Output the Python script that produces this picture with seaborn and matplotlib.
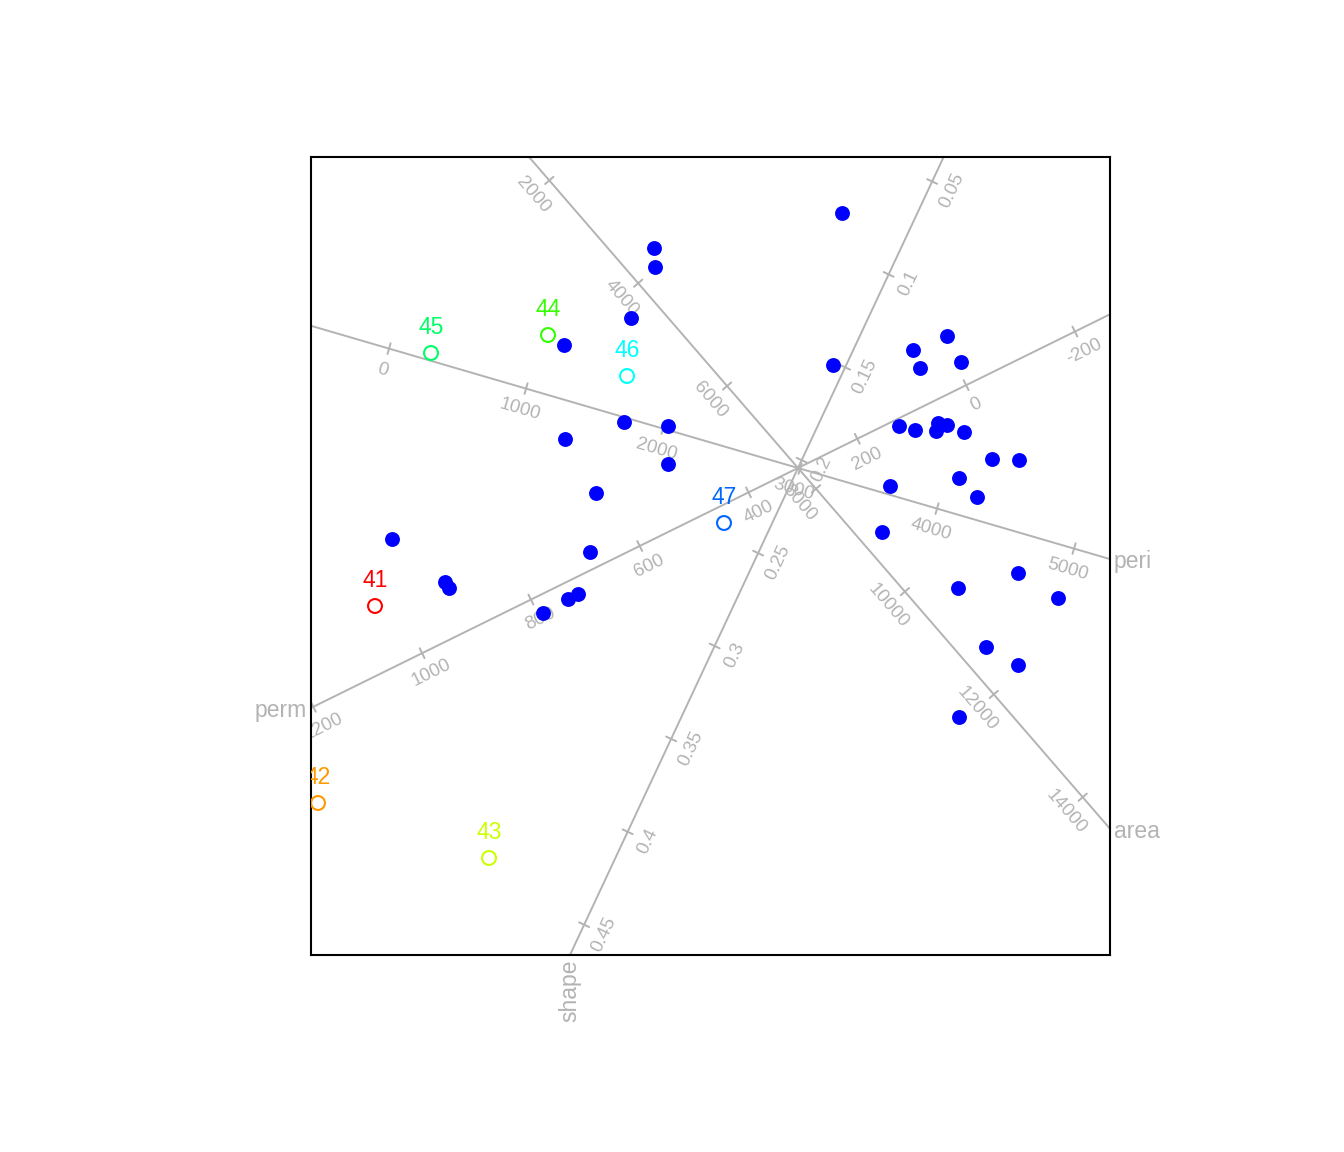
import numpy as np
import pandas as pd
import matplotlib
matplotlib.use("Agg")
import matplotlib.pyplot as plt
import seaborn as sns

# ---- biplot scores of the active samples (blue) ----
pt_x = [-1.44, -1.43, -1.67, -2.34, -1.74, -1.30, -2.33, -1.30, -2.02,
        0.44, 0.35, 1.49, 1.15, 1.22, 1.63, 1.01, 1.17, 1.40, 1.49, 1.38,
        1.66, 1.94, 2.21, 1.61, 0.92, 1.79, 0.84, 2.20, 1.60, 2.60, 1.88,
        2.20, 1.61, -4.06, -3.53, -3.49, -2.08, -2.20, -2.30, -2.55]
pt_y = [2.20, 2.01, 1.50, 1.23, 0.46, 0.42, 0.29, 0.04, -0.25,
        2.55, 1.03, 1.32, 1.18, 1.00, 1.06, 0.42, 0.38, 0.45, 0.43, 0.37,
        0.36, 0.09, 0.08, -0.10, -0.18, -0.29, -0.64, -1.05, -1.20, -1.30, -1.79,
        -1.97, -2.49, -0.71, -1.14, -1.20, -0.84, -1.26, -1.31, -1.45]

# ---- supplementary (labelled) samples ----
sup_id = ["41", "42", "43", "44", "45", "46", "47"]
sup_x = [-4.23, -4.80, -3.09, -2.50, -3.67, -1.71, -0.74]
sup_y = [-1.38, -3.35, -3.90, 1.33, 1.15, 0.92, -0.55]
sup_col = ["#FF0000", "#FF9900", "#CCFF00", "#33FF00", "#00FF66", "#00FFFF", "#0066FF"]

# ---- calibrated variable axes ----
var_names = ["peri", "area", "perm", "shape"]
var_center = [2985.0, 7595.0, 309.0, 0.2042]
var_dir_x = [1.37e-3, 0.4445e-3, -0.544e-2, -8.7]     # displacement per unit of variable
var_dir_y = [-0.40e-3, -0.514e-3, -0.268e-2, -18.58]
tick_vals = [
    [0, 1000, 2000, 3000, 4000, 5000],
    [2000, 4000, 6000, 8000, 10000, 12000, 14000],
    [-200, 0, 200, 400, 600, 800, 1000, 1200],
    [0.05, 0.1, 0.15, 0.2, 0.25, 0.3, 0.35, 0.4, 0.45],
]
tick_labels = [
    ["0", "1000", "2000", "3000", "4000", "5000"],
    ["2000", "4000", "6000", "8000", "10000", "12000", "14000"],
    ["-200", "0", "200", "400", "600", "800", "1000", "1200"],
    ["0.05", "0.1", "0.15", "0.2", "0.25", "0.3", "0.35", "0.4", "0.45"],
]

XLIM = (-4.87, 3.12)
YLIM = (-4.87, 3.11)
GRAY = "#B3B3B3"

sns.set_theme(style="white")
plt.rcParams["font.family"] = ["Liberation Sans", "DejaVu Sans"]

fig = plt.figure(figsize=(13.44, 11.52), dpi=100)
ax = fig.add_axes([311 / 1344, 1 - 955 / 1152, 799 / 1344, 798 / 1152])
ax.set_xlim(*XLIM)
ax.set_ylim(*YLIM)
ax.set_aspect("auto")
ax.set_xticks([])
ax.set_yticks([])
for s in ax.spines.values():
    s.set_color("black")
    s.set_linewidth(1.5)

# variable axes
for name, c, dx, dy, tv, tl in zip(var_names, var_center, var_dir_x, var_dir_y,
                                     tick_vals, tick_labels):
    d = np.array([dx, dy])
    u = d / np.linalg.norm(d)
    ax.plot([-20 * u[0], 20 * u[0]], [-20 * u[1], 20 * u[1]], color=GRAY, lw=1.4,
            zorder=1, solid_capstyle="butt")
    ur = u if u[0] > 0 else -u
    perp = np.array([ur[1], -ur[0]])
    ang = np.degrees(np.arctan2(ur[1], ur[0]))
    for v, lab in zip(tv, tl):
        p = (v - c) * d
        a = p - 0.055 * perp
        b = p + 0.055 * perp
        ax.plot([a[0], b[0]], [a[1], b[1]], color=GRAY, lw=1.4, zorder=1)
        q = p + 0.20 * perp
        ax.text(q[0], q[1], lab, rotation=ang, rotation_mode="anchor",
                ha="center", va="center_baseline", color=GRAY, fontsize=13.5,
                clip_on=True, zorder=1)
    # axis name at the end where the variable increases
    ts = []
    for lim, comp in ((XLIM[0], 0), (XLIM[1], 0), (YLIM[0], 1), (YLIM[1], 1)):
        if u[comp] != 0:
            t = lim / u[comp]
            if t > 0:
                ts.append(t)
    t = min(ts)
    e = t * u
    gap = 0.04
    if abs(e[0] - XLIM[1]) < 1e-6:
        ax.text(e[0] + gap, e[1], name, ha="left", va="center_baseline",
                color=GRAY, fontsize=16.5, clip_on=False)
    elif abs(e[0] - XLIM[0]) < 1e-6:
        ax.text(e[0] - gap, e[1], name, ha="right", va="center_baseline",
                color=GRAY, fontsize=16.5, clip_on=False)
    elif abs(e[1] - YLIM[0]) < 1e-6:
        ax.text(e[0], e[1] - gap, name, ha="center", va="top", rotation=90,
                color=GRAY, fontsize=16.5, clip_on=False)
    else:
        ax.text(e[0], e[1] + gap, name, ha="center", va="bottom", rotation=90,
                color=GRAY, fontsize=16.5, clip_on=False)

# active samples
df = pd.DataFrame({"x": pt_x, "y": pt_y})
sns.scatterplot(data=df, x="x", y="y", ax=ax, color="#0000FF", s=115,
                linewidth=0, zorder=3, legend=False)

# supplementary samples
sup = pd.DataFrame({"x": sup_x, "y": sup_y, "id": sup_id})
sns.scatterplot(data=sup, x="x", y="y", hue="id", palette=sup_col, ax=ax,
                s=100, facecolor="none", linewidth=1.5, zorder=3, legend=False,
                marker="o")
# make hollow
coll = ax.collections[-1]
coll.set_facecolor("none")
coll.set_edgecolors(sup_col)

for x, y, lab, col in zip(sup_x, sup_y, sup_id, sup_col):
    ax.text(x, y + 0.19, lab, ha="center", va="baseline", color=col,
            fontsize=16.5, clip_on=True, zorder=4)

ax.set_xlabel("")
ax.set_ylabel("")
fig.savefig("out.png", dpi=100)
